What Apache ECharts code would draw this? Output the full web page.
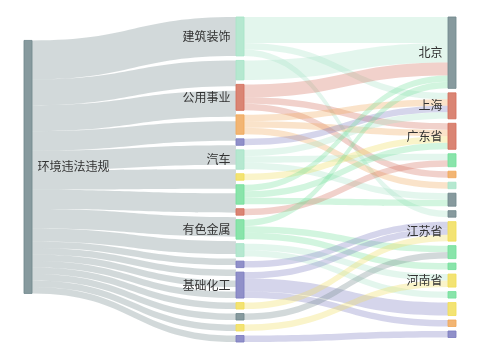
<!DOCTYPE html>
<html>
<head>
<meta charset="utf-8">
<script src="https://cdn.jsdelivr.net/npm/echarts@6/dist/echarts.min.js"></script>
<style>html,body{margin:0;padding:0;background:#fff;}#c{width:480px;height:360px;}</style>
</head>
<body>
<div id="c"></div>
<script>
// ---- data ----
const sourceName = '环境违法违规';
const industries = ['建筑装饰','电力设备','公用事业','环保','钢铁','汽车','交通运输','机械设备','农林牧渔','有色金属','建筑材料','医药生物','基础化工','轻工制造','纺织服饰','食品饮料','煤炭'];
const industryCounts = [6,3,4,3,1,3,1,3,1,3,2,1,4,1,1,1,1];
const provinces = ['北京','上海','广东省','浙江省','山东省','四川省','湖北省','安徽省','江苏省','福建省','河北省','河南省','辽宁省','天津','重庆','湖南省'];
const flowFrom  = ['建筑装饰','建筑装饰','建筑装饰','电力设备','公用事业','公用事业','公用事业','环保','环保','环保','钢铁','汽车','汽车','汽车','交通运输','机械设备','机械设备','机械设备','农林牧渔','有色金属','有色金属','有色金属','建筑材料','建筑材料','医药生物','基础化工','基础化工','基础化工','轻工制造','纺织服饰','食品饮料','煤炭'];
const flowTo    = ['北京','上海','安徽省','北京','北京','广东省','山东省','上海','广东省','四川省','上海','上海','浙江省','湖北省','广东省','北京','广东省','湖北省','浙江省','北京','福建省','河北省','河南省','辽宁省','江苏省','江苏省','天津','重庆','江苏省','福建省','河南省','湖南省'];
const flowValue = [4,1,1,3,2,1,1,1,1,1,1,1,1,1,1,1,1,1,1,1,1,1,1,1,1,1,2,1,1,1,1,1];
const labelledNodes = ['环境违法违规','建筑装饰','公用事业','汽车','有色金属','基础化工','北京','上海','广东省','江苏省','河南省'];

// ---- styles ----
const C = {grey:'#72888d', mint:'#a8e4c8', red:'#d3705c', orange:'#f0a85a', purple:'#7d7cc0', green:'#74df9b', yellow:'#f1de5b'};
const colorOf = {
  '环境违法违规':C.grey,
  '建筑装饰':C.mint,'电力设备':C.mint,'公用事业':C.red,'环保':C.orange,'钢铁':C.purple,'汽车':C.mint,'交通运输':C.yellow,
  '机械设备':C.green,'农林牧渔':C.red,'有色金属':C.green,'建筑材料':C.mint,'医药生物':C.purple,'基础化工':C.purple,
  '轻工制造':C.yellow,'纺织服饰':C.grey,'食品饮料':C.yellow,'煤炭':C.purple,
  '北京':C.grey,'上海':C.red,'广东省':C.red,'浙江省':C.green,'山东省':C.orange,'四川省':C.mint,'湖北省':C.grey,'安徽省':C.grey,
  '江苏省':C.yellow,'福建省':C.green,'河北省':C.green,'河南省':C.yellow,'辽宁省':C.green,'天津':C.yellow,'重庆':C.orange,'湖南省':C.purple
};

function makeNode(n, visible) {
  const col = colorOf[n];
  return {
    name: n,
    itemStyle: {color: col, borderColor: col, borderWidth: visible ? 1 : 0, opacity: visible ? 0.85 : 0},
    label: {show: visible && labelledNodes.indexOf(n) >= 0, position: n === sourceName ? 'right' : 'left'}
  };
}

// stage 1: source -> industries ; stage 2: industries -> provinces
const nodesA = [makeNode(sourceName, true)].concat(industries.map(function (n) { return makeNode(n, false); }));
const linksA = industries.map(function (n, i) { return {source: sourceName, target: n, value: industryCounts[i]}; });
const nodesB = industries.map(function (n) { return makeNode(n, true); }).concat(provinces.map(function (n) { return makeNode(n, true); }));
const linksB = flowFrom.map(function (s, i) { return {source: s, target: flowTo[i], value: flowValue[i]}; });

const common = {
  type: 'sankey',
  top: 17, bottom: 18,
  nodeWidth: 8,
  nodeGap: 4.5,
  draggable: false,
  label: {color: '#333', fontSize: 12, fontFamily: 'Noto Sans CJK SC', distance: 5},
  lineStyle: {color: 'source', opacity: 0.32, curveness: 0.5},
  emphasis: {disabled: true}
};

const chart = echarts.init(document.getElementById('c'), null, {renderer: 'canvas'});
chart.setOption({
  animation: false,
  series: [
    Object.assign({}, common, {left: 24, right: 236, data: nodesA, links: linksA}),
    Object.assign({}, common, {left: 236, right: 24, layoutIterations: 0, data: nodesB, links: linksB})
  ]
});
</script>
</body>
</html>
